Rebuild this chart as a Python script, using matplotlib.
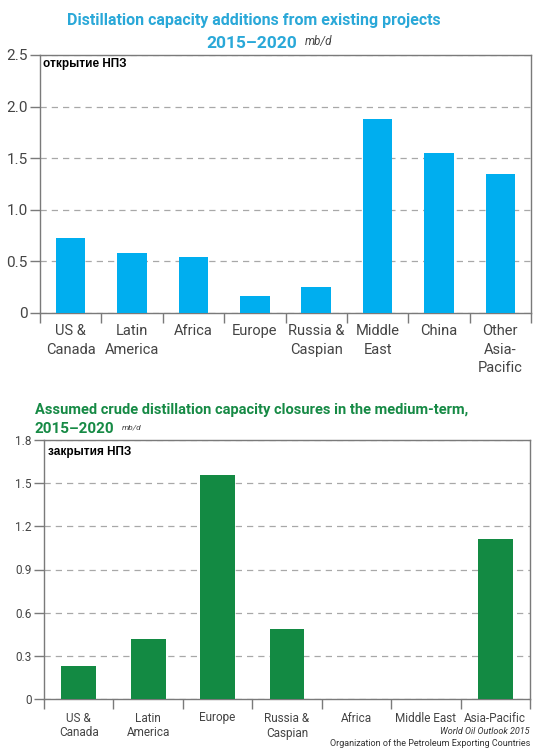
import matplotlib
matplotlib.use("Agg")
import matplotlib.pyplot as plt
import numpy as np

plt.rcParams['font.family'] = ['Roboto', 'DejaVu Sans']

# данные: открытие НПЗ (mb/d)
regions_add = ["US &\nCanada", "Latin\nAmerica", "Africa", "Europe",
               "Russia &\nCaspian", "Middle\nEast", "China", "Other\nAsia-\nPacific"]
additions = [0.73, 0.58, 0.545, 0.16, 0.25, 1.88, 1.55, 1.35]
yticks_add = [0, 0.5, 1.0, 1.5, 2.0, 2.5]
ylabels_add = ["0", "0.5", "1.0", "1.5", "2.0", "2.5"]

# данные: закрытие НПЗ (mb/d)
regions_close = ["US &\nCanada", "Latin\nAmerica", "Europe", "Russia &\nCaspian",
                 "Africa", "Middle East", "Asia-Pacific"]
closures = [0.23, 0.415, 1.56, 0.485, 0, 0, 1.115]
yticks_close = [0, 0.3, 0.6, 0.9, 1.2, 1.5, 1.8]
ylabels_close = ["0", "0.3", "0.6", "0.9", "1.2", "1.5", "1.8"]

blue = '#00AEEF'
green = '#138A43'
title_blue = '#2AA8D8'
title_green = '#168A45'
spine_col = '#7a7a7a'


def style_axes(ax, n, yticks, ylabels, cats, fs_y, fs_x, linesp, xpad):
    ax.set_xlim(-0.5, n - 0.5)
    ax.set_ylim(yticks[0], yticks[-1])
    ax.set_yticks(yticks)
    ax.set_yticklabels(ylabels, fontsize=fs_y, color='#444444')
    ax.set_xticks(np.arange(n))
    ax.set_xticklabels(cats, fontsize=fs_x, color='#444444', linespacing=linesp, va='top')
    ax.set_xticks(np.arange(n + 1) - 0.5, minor=True)
    ax.tick_params(axis='x', which='major', length=0, pad=xpad)
    ax.tick_params(axis='x', which='minor', length=7, color=spine_col, width=1)
    ax.tick_params(axis='y', length=7, color=spine_col, width=1, pad=2)
    for s in ax.spines.values():
        s.set_color(spine_col)
        s.set_linewidth(1)
    ax.yaxis.grid(True, linestyle=(0, (5, 4)), color='#a8a8a8', linewidth=0.9)
    ax.set_axisbelow(True)


fig = plt.figure(figsize=(5.5, 7.55), dpi=100)

# верхний график
ax1 = fig.add_axes([40 / 550, 1 - 313 / 755, 491 / 550, 258 / 755])
ax1.bar(np.arange(len(additions)), additions, width=0.48, color=blue, zorder=3)
style_axes(ax1, len(additions), yticks_add, ylabels_add, regions_add, 11, 10.5, 1.4, 8)
ax1.text(0.006, 0.99, "открытие НПЗ", transform=ax1.transAxes, ha='left', va='top',
         fontsize=8.5, fontweight='bold', family=['Liberation Sans', 'DejaVu Sans'])

fig.text(254 / 550, 1 - 20 / 755, "Distillation capacity additions from existing projects",
         ha='center', va='center', fontsize=11.5, fontweight='bold', color=title_blue)
fig.text(252 / 550, 1 - 44 / 755, "2015–2020", ha='center', va='center',
         fontsize=12.5, fontweight='bold', color=title_blue)
fig.text(305 / 550, 1 - 41 / 755, "mb/d", ha='left', va='center', fontsize=8.5,
         style='italic', color='#444444')

# нижний график
ax2 = fig.add_axes([44 / 550, 1 - 699 / 755, 486 / 550, 259 / 755])
ax2.bar(np.arange(len(closures)), closures, width=0.5, color=green, zorder=3)
style_axes(ax2, len(closures), yticks_close, ylabels_close, regions_close, 8.5, 8.5, 1.2, 9)
ax2.text(0.008, 0.975, "закрытия НПЗ", transform=ax2.transAxes, ha='left', va='top',
         fontsize=8.5, fontweight='bold', family=['Liberation Sans', 'DejaVu Sans'])

fig.text(35 / 550, 1 - 410 / 755, "Assumed crude distillation capacity closures in the medium-term,",
         ha='left', va='center', fontsize=10.5, fontweight='bold', color=title_green)
fig.text(35 / 550, 1 - 429 / 755, "2015–2020", ha='left', va='center', fontsize=11,
         fontweight='bold', color=title_green)
fig.text(122 / 550, 1 - 427 / 755, "mb/d", ha='left', va='center', fontsize=6,
         style='italic', color='#444444')

fig.text(530 / 550, 1 - 731 / 755, "World Oil Outlook 2015", ha='right', va='center',
         fontsize=6.5, style='italic', color='#333333')
fig.text(530 / 550, 1 - 743 / 755, "Organization of the Petroleum Exporting Countries",
         ha='right', va='center', fontsize=6.5, color='#333333')

fig.savefig("out.png", dpi=100)
